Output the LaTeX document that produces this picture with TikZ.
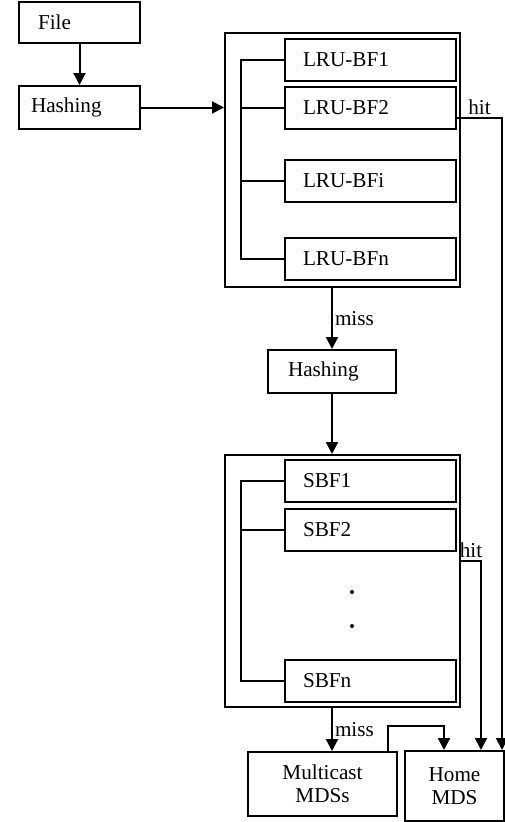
\documentclass[tikz,border=0pt]{standalone}
\usepackage{fontspec}
\setmainfont{Liberation Serif}
\usetikzlibrary{arrows.meta, calc}

\begin{document}
\begin{tikzpicture}[
    x=1pt, y=-1pt,
    font=\fontsize{21.2}{23}\selectfont,
    box/.style={draw, line width=2pt, inner ysep=0pt, minimum height=42pt, align=left},
    filter/.style={box, inner xsep=18pt, text width=135pt},
    frame/.style={draw, line width=2pt, inner sep=0pt, minimum width=235pt},
    flow/.style={-{Triangle[length=12pt, width=12pt]}, line width=2pt},
    link/.style={line width=2pt},
    lbl/.style={inner sep=2pt},
    dot/.style={circle, fill, inner sep=0pt, minimum size=4pt},
  ]
  \useasboundingbox (0,0) rectangle (505,822);

  % ---- input side ----
  \node[box, inner xsep=19pt, text width=83pt, minimum height=41pt] (file) at (79.5,22.5) {File};
  \node[box, inner xsep=12pt, text width=97pt, minimum height=43pt] (hash1) at (79.5,107.5) {Hashing};
  \draw[flow] (file) -- (hash1);

  % ---- LRU Bloom filter array ----
  \node[frame, minimum height=254pt] (lrubox) at (342.5,160) {};
  \node[filter] (bf1) at (370.5,59.5) {LRU-BF1};
  \node[filter] (bf2) at (370.5,108) {LRU-BF2};
  \node[filter] (bfi) at (370.5,181) {LRU-BFi};
  \node[filter] (bfn) at (370.5,258.5) {LRU-BFn};
  \draw[link] (bf1.west) -- ++(-43,0) coordinate (lbus) |- (bfn.west);
  \draw[link] (bf2.west) -- (bf2.west -| lbus);
  \draw[link] (bfi.west) -- (bfi.west -| lbus);
  \draw[flow] (hash1.east) -- (hash1.east -| lrubox.west);

  % ---- second hashing ----
  \node[box, inner xsep=20pt, text width=88pt, minimum height=43pt] (hash2) at (332,371.5) {Hashing};
  \draw[flow] (hash2.north |- lrubox.south) -- node[right, lbl]{miss} (hash2.north);

  % ---- segment Bloom filter array ----
  \node[frame, minimum height=252pt] (sbfbox) at (342.5,581) {};
  \node[filter] (sbf1) at (370.5,481) {SBF1};
  \node[filter] (sbf2) at (370.5,530) {SBF2};
  \node[filter] (sbfn) at (370.5,680.5) {SBFn};
  \node[dot] (dotA) at (352,592) {};
  \node[dot] (dotB) at (352,626) {};
  \draw[link] (sbf1.west) -- ++(-43,0) coordinate (sbus) |- (sbfn.west);
  \draw[link] (sbf2.west) -- (sbf2.west -| sbus);
  \draw[flow] (hash2.south) -- (hash2.south |- sbfbox.north);

  % ---- metadata servers ----
  \node[box, inner xsep=0pt, text width=149pt, minimum height=64pt, align=center] (multi) at (322.5,784) {Multicast\\MDSs};
  \node[box, inner xsep=0pt, text width=99pt, minimum height=70pt, align=center] (home) at (454.5,786) {Home\\MDS};
  \draw[flow] (hash2.north |- sbfbox.south) -- node[right, lbl]{miss} (hash2.north |- multi.north);
  \draw[flow] ($(multi.north east)+(-10,0)$) -- ++(0,-25) -| ($(home.north west)+(40,0)$);

  % hits go straight to the home MDS
  \draw[flow] ($(bf2.east)+(0,10)$) -| node[pos=0.25, above, lbl]{hit} ($(home.north east)+(-3,0)$);
  \draw[flow] ($(sbfbox.east)+(0,-20)$) -| node[pos=0.25, above, lbl]{hit} ($(home.north)+(26.5,0)$);

\end{tikzpicture}
\end{document}
